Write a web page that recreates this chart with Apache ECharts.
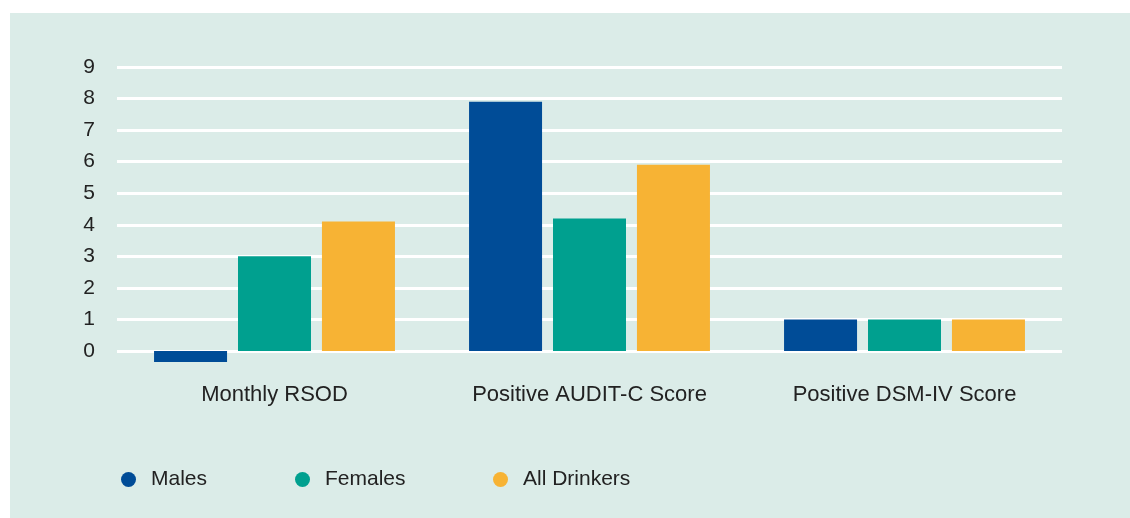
<!DOCTYPE html>
<html>
<head>
<meta charset="utf-8">
<script src="https://cdn.jsdelivr.net/npm/echarts@6/dist/echarts.min.js"></script>
<style>
  html, body { margin: 0; padding: 0; background: #ffffff; }
  #chart { width: 1130px; height: 518px; }
</style>
</head>
<body>
<div id="chart"></div>
<script>
// categories and values
const categories = ["Monthly RSOD", "Positive AUDIT-C Score", "Positive DSM-IV Score"];
const males = [-0.35, 7.9, 1.0];
const females = [3.0, 4.2, 1.0];
const allDrinkers = [4.1, 5.9, 1.0];
const yTicks = [0, 1, 2, 3, 4, 5, 6, 7, 8, 9];

const colors = { males: "#004C97", females: "#00A08F", all: "#F7B334" };
const labelFont = "Liberation Sans, Arial, sans-serif";

const chart = echarts.init(document.getElementById("chart"));

// one legend per item so the spacing matches the original
function legendItem(name, left) {
  return {
    data: [name],
    left: left,
    top: 464,
    icon: "circle",
    itemWidth: 15,
    itemHeight: 15,
    textStyle: { fontSize: 21, color: "#222", fontFamily: labelFont, padding: [0, 0, 0, 10] }
  };
}

function barSeries(name, data, color) {
  return {
    name: name,
    type: "bar",
    data: data,
    barWidth: 73,
    barGap: "15%",
    clip: false,
    itemStyle: { color: color },
    emphasis: { disabled: true }
  };
}

const option = {
  backgroundColor: "#ffffff",
  animation: false,
  graphic: [
    {
      type: "rect",
      left: 10,
      top: 13,
      z: -10,
      shape: { width: 1120, height: 505 },
      style: { fill: "#DBECE8" }
    }
  ],
  grid: { left: 117, right: 68, top: 67, bottom: 167 },
  legend: [
    legendItem("Males", 116),
    legendItem("Females", 290),
    legendItem("All Drinkers", 488)
  ],
  xAxis: {
    type: "category",
    data: categories,
    axisLine: { show: false },
    axisTick: { show: false },
    axisLabel: { fontSize: 22, color: "#222", fontFamily: labelFont, margin: 33 }
  },
  yAxis: {
    type: "value",
    min: yTicks[0],
    max: yTicks[yTicks.length - 1],
    interval: 1,
    axisLine: { show: false },
    axisTick: { show: false },
    axisLabel: {
      fontSize: 21,
      color: "#222",
      fontFamily: labelFont,
      align: "center",
      margin: 28
    },
    splitLine: { lineStyle: { color: "#ffffff", width: 3 } }
  },
  series: [
    barSeries("Males", males, colors.males),
    barSeries("Females", females, colors.females),
    barSeries("All Drinkers", allDrinkers, colors.all)
  ]
};

chart.setOption(option);
</script>
</body>
</html>
